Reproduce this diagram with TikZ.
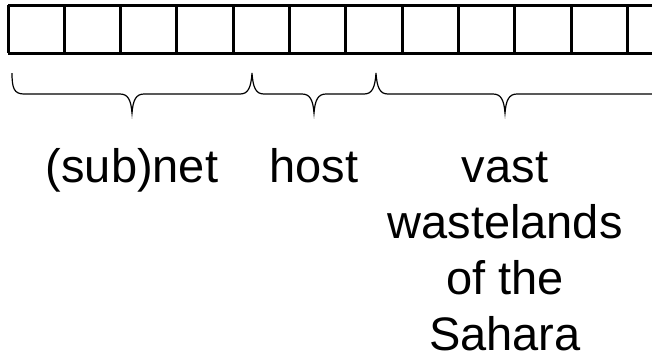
\documentclass[tikz,border=0pt]{standalone}
\usepackage{fontspec}
\setmainfont{Liberation Sans}
\begin{document}
\begin{tikzpicture}[x=1pt,y=-1pt,
  cellrow/.style={line width=3pt},
  bracepath/.style={line width=1.2pt},
  lbl/.style={font=\fontsize{47}{56}\selectfont, align=center, anchor=base, inner sep=0pt}]
\useasboundingbox (0,0) rectangle (652,360);
\clip (0,0) rectangle (652,360);
% cell row
\draw[cellrow] (8,5) -- (660,5);
\draw[cellrow] (8,53) -- (660,53);
\foreach \k in {0,...,12} {
  \draw[cellrow] ({8+56.3*\k},5) -- ({8+56.3*\k},53);
}
% braces
\draw[bracepath] (12,73) .. controls (12,88) and (14,94) .. (24,94) -- (120,94)
  .. controls (128,94) and (131,100) .. (132,113)
  .. controls (133,100) and (136,94) .. (144,94) -- (240,94)
  .. controls (248,94) and (251,88) .. (252,73)
  .. controls (253,88) and (256,94) .. (264,94) -- (302,94)
  .. controls (310,94) and (313,100) .. (314,113)
  .. controls (315,100) and (318,94) .. (326,94) -- (364,94)
  .. controls (372,94) and (375,88) .. (376,73)
  .. controls (377,88) and (380,94) .. (388,94) -- (493,94)
  .. controls (501,94) and (504,100) .. (505,113)
  .. controls (506,100) and (509,94) .. (517,94) -- (670,94);
% labels
\node[lbl] (net) at (132,182) {(sub)net};
\node[lbl] (host) at (314,182) {host};
\node[lbl] (vast) at (505,350) {vast\\wastelands\\of the\\Sahara};
\end{tikzpicture}
\end{document}
